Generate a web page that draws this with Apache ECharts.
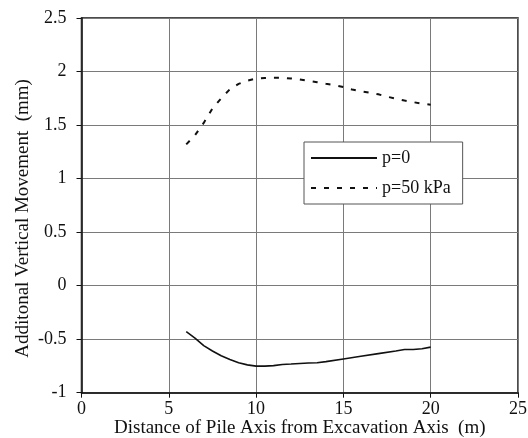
<!DOCTYPE html>
<html>
<head>
<meta charset="utf-8">
<script src="https://cdn.jsdelivr.net/npm/echarts@6/dist/echarts.min.js"></script>
<style>
html,body{margin:0;padding:0;background:#fff;}
#chart{width:528px;height:438px;}
</style>
</head>
<body>
<div id="chart"></div>
<script>
const xTitle = 'Distance of Pile Axis from Excavation Axis  (m)';
const yTitle = 'Additonal Vertical Movement  (mm)';
const seriesNames = ['p=0', 'p=50 kPa'];

const p0X = [6, 6.5, 7, 7.5, 8, 8.5, 9, 9.5, 10, 10.5, 11, 11.5, 12, 12.5, 13, 13.5, 14, 15, 16, 17, 18, 18.5, 19, 19.5, 20];
const p0Y = [-0.43, -0.49, -0.56, -0.61, -0.655, -0.69, -0.72, -0.74, -0.752, -0.752, -0.747, -0.736, -0.732, -0.727, -0.722, -0.72, -0.71, -0.685, -0.66, -0.635, -0.61, -0.597, -0.596, -0.59, -0.574];

const p50X = [6, 6.5, 7, 7.5, 8, 8.5, 9, 9.5, 10, 10.5, 11, 11.5, 12, 12.5, 13, 13.5, 14, 14.5, 15, 15.5, 16, 16.5, 17, 17.5, 18, 18.5, 19, 19.5, 20];
const p50Y = [1.32, 1.405, 1.52, 1.655, 1.75, 1.835, 1.885, 1.915, 1.935, 1.94, 1.942, 1.942, 1.935, 1.925, 1.912, 1.9, 1.886, 1.873, 1.855, 1.832, 1.815, 1.802, 1.787, 1.765, 1.747, 1.729, 1.714, 1.70, 1.69];

const font = 'Liberation Serif';
const zip = (xs, ys) => xs.map((x, i) => [x, ys[i]]);

const chart = echarts.init(document.getElementById('chart'), null, {renderer: 'canvas'});
chart.setOption({
  animation: false,
  backgroundColor: '#fff',
  textStyle: {fontFamily: font},
  grid: {
    left: 81.5, right: 10, top: 18, bottom: 45.3,
    outerBoundsMode: 'none',
    show: true, borderColor: '#111', borderWidth: 1.5, backgroundColor: 'transparent'
  },
  legend: {
    orient: 'vertical',
    left: 304, top: 142,
    padding: [7, 12, 7, 6],
    itemGap: 12,
    itemWidth: 66, itemHeight: 14,
    backgroundColor: '#fff',
    borderColor: '#555', borderWidth: 1,
    itemStyle: {opacity: 0},
    textStyle: {fontFamily: font, fontSize: 18, color: '#111'},
    data: seriesNames
  },
  xAxis: {
    type: 'value', min: 0, max: 25, interval: 5,
    name: xTitle, nameLocation: 'middle', nameGap: 26, nameMoveOverlap: false,
    nameTextStyle: {fontFamily: font, fontSize: 19, color: '#111'},
    axisLine: {show: true, onZero: false, lineStyle: {color: '#111', width: 1.5}},
    axisTick: {show: true, inside: false, length: 5, lineStyle: {color: '#111'}},
    axisLabel: {fontFamily: font, fontSize: 18, color: '#111', margin: 8},
    splitLine: {show: true, lineStyle: {color: '#7a7a7a', width: 1}}
  },
  yAxis: {
    type: 'value', min: -1, max: 2.5, interval: 0.5,
    name: yTitle, nameLocation: 'middle', nameGap: 49, nameMoveOverlap: false,
    nameTextStyle: {fontFamily: font, fontSize: 19, color: '#111', padding: [0, 26, 0, 0]},
    axisLine: {show: true, onZero: false, lineStyle: {color: '#111', width: 1.5}},
    axisTick: {show: true, inside: false, length: 5, lineStyle: {color: '#111'}},
    axisLabel: {fontFamily: font, fontSize: 18, color: '#111', margin: 15},
    splitLine: {show: true, lineStyle: {color: '#7a7a7a', width: 1}}
  },
  series: [
    {
      name: seriesNames[0], type: 'line', data: zip(p0X, p0Y),
      showSymbol: false, symbol: 'none', smooth: false,
      lineStyle: {color: '#111', width: 1.6, type: 'solid'},
      itemStyle: {color: '#111'}
    },
    {
      name: seriesNames[1], type: 'line', data: zip(p50X, p50Y),
      showSymbol: false, symbol: 'none', smooth: false,
      lineStyle: {color: '#111', width: 2, type: [5, 8]},
      itemStyle: {color: '#111'}
    }
  ]
});
</script>
</body>
</html>
